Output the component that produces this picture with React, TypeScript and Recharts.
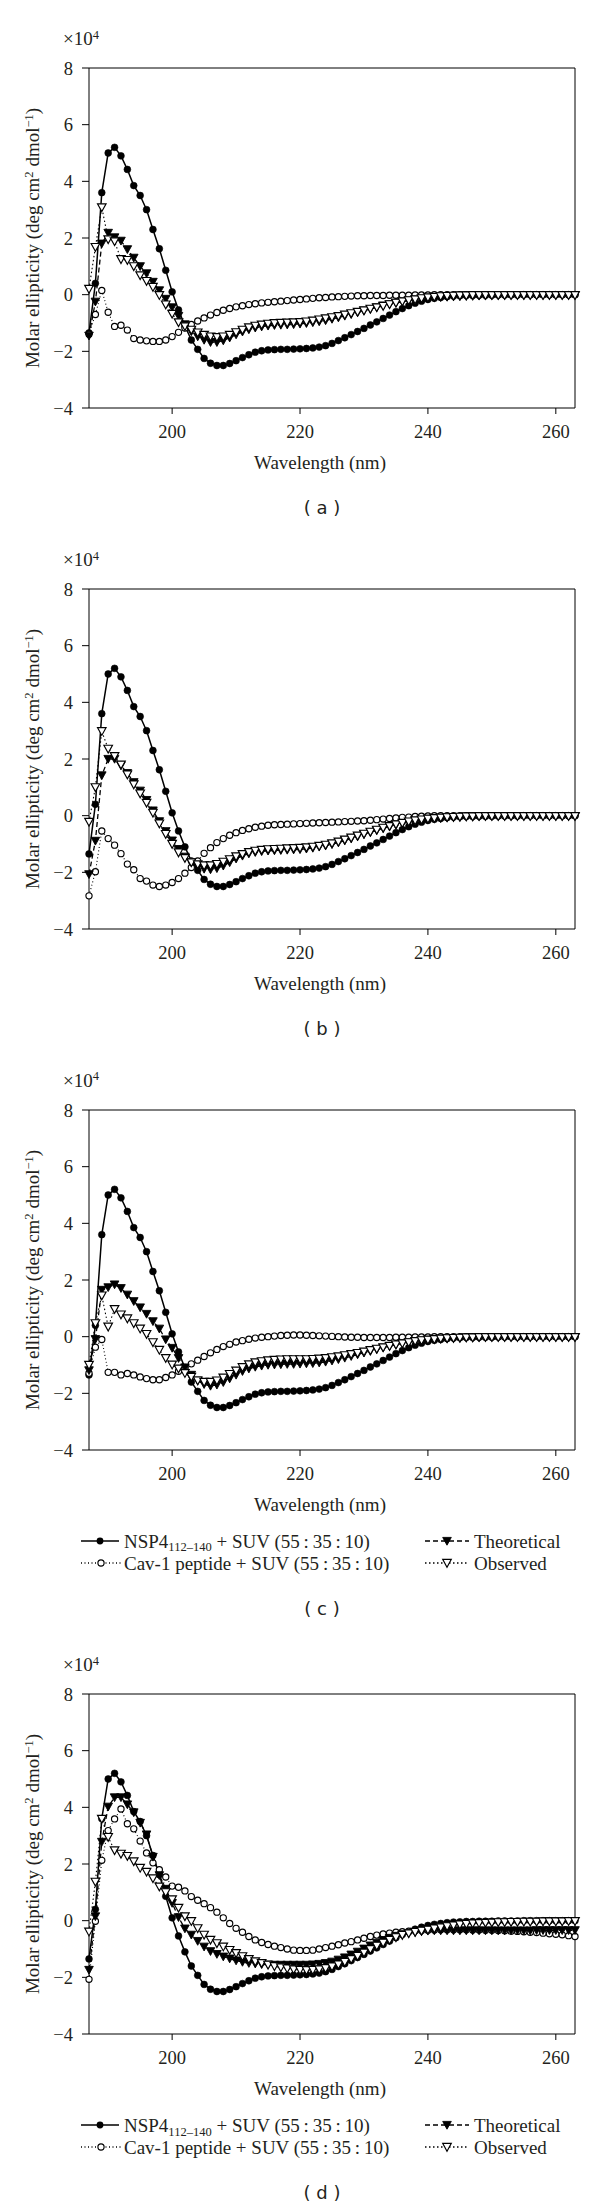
import React from 'react';
import { LineChart, Line, XAxis, YAxis, ReferenceLine } from 'recharts';

// wavelength grid, 1 nm steps
const WAVELENGTHS = [
  187, 188, 189, 190, 191, 192, 193, 194, 195, 196,
  197, 198, 199, 200, 201, 202, 203, 204, 205, 206,
  207, 208, 209, 210, 211, 212, 213, 214, 215, 216,
  217, 218, 219, 220, 221, 222, 223, 224, 225, 226,
  227, 228, 229, 230, 231, 232, 233, 234, 235, 236,
  237, 238, 239, 240, 241, 242, 243, 244, 245, 246,
  247, 248, 249, 250, 251, 252, 253, 254, 255, 256,
  257, 258, 259, 260, 261, 262, 263,
];

// NSP4(112-140) + SUV, same trace in every panel (x10^4)
const NSP4 = [
  -1.35, 0.4, 3.6, 5.0, 5.2, 4.9, 4.42, 3.85, 3.5, 3.0,
  2.3, 1.62, 0.86, 0.1, -0.54, -1.1, -1.6, -1.93, -2.25, -2.42,
  -2.5, -2.5, -2.43, -2.33, -2.22, -2.12, -2.03, -1.98, -1.95, -1.94,
  -1.93, -1.93, -1.92, -1.91, -1.9, -1.88, -1.85, -1.8, -1.72, -1.62,
  -1.52, -1.41, -1.3, -1.19, -1.07, -0.96, -0.84, -0.72, -0.6, -0.49,
  -0.39, -0.3, -0.23, -0.17, -0.13, -0.1, -0.07, -0.05, -0.04, -0.03,
  -0.03, -0.02, -0.02, -0.02, -0.01, -0.01, -0.01, -0.01, 0, 0,
  0, 0, 0, 0, 0, 0, 0,
];

// panel (a)
const CAV_A = [
  -1.4, -0.7, 0.15, -0.62, -1.12, -1.08, -1.25, -1.55, -1.6, -1.63,
  -1.65, -1.65, -1.6, -1.48, -1.33, -1.18, -1.05, -0.93, -0.82, -0.72,
  -0.63, -0.55, -0.49, -0.43, -0.39, -0.35, -0.32, -0.29, -0.27, -0.25,
  -0.23, -0.21, -0.19, -0.17, -0.15, -0.13, -0.11, -0.1, -0.08, -0.07,
  -0.06, -0.05, -0.04, -0.04, -0.03, -0.03, -0.03, -0.02, -0.02, -0.02,
  -0.02, -0.01, -0.01, -0.01, 0, 0, 0, 0, 0, 0,
  0, 0, 0, 0, 0, 0, 0, 0, 0, 0,
  0, 0, 0, 0, 0, 0, 0,
];
const THEO_A = [
  -1.45, -0.25, 1.8, 2.18, 2.02, 1.9, 1.6, 1.3, 1.0, 0.75,
  0.45, 0.15, -0.15, -0.45, -0.75, -1.05, -1.3, -1.48, -1.6, -1.68,
  -1.68, -1.62, -1.52, -1.41, -1.31, -1.23, -1.17, -1.13, -1.1, -1.08,
  -1.07, -1.06, -1.05, -1.03, -1.01, -0.98, -0.95, -0.91, -0.86, -0.81,
  -0.75, -0.69, -0.63, -0.57, -0.51, -0.45, -0.39, -0.34, -0.29, -0.25,
  -0.21, -0.18, -0.15, -0.13, -0.11, -0.09, -0.08, -0.07, -0.06, -0.05,
  -0.05, -0.04, -0.04, -0.03, -0.03, -0.03, -0.02, -0.02, -0.02, -0.02,
  -0.02, -0.02, -0.02, -0.02, -0.02, -0.02, -0.02,
];
const OBS_A = [
  0.2, 1.68, 3.08, 1.95, 1.88, 1.25, 1.22, 1.0, 0.68, 0.48,
  0.27, -0.02, -0.35, -0.68, -0.98, -1.12, -1.24, -1.34, -1.42, -1.48,
  -1.5, -1.48, -1.42, -1.33, -1.24, -1.16, -1.1, -1.06, -1.03, -1.01,
  -1.0, -0.99, -0.98, -0.97, -0.95, -0.92, -0.88, -0.84, -0.8, -0.76,
  -0.71, -0.66, -0.61, -0.56, -0.5, -0.45, -0.4, -0.34, -0.29, -0.24,
  -0.2, -0.17, -0.13, -0.1, -0.08, -0.06, -0.05, -0.04, -0.03, -0.03,
  -0.02, -0.02, -0.02, -0.02, -0.02, -0.02, -0.02, -0.02, -0.02, -0.02,
  -0.02, -0.02, -0.02, -0.02, -0.02, -0.02, -0.02,
];

// panel (b)
const CAV_B = [
  -2.83, -1.98, -0.54, -0.81, -1.04, -1.34, -1.71, -1.91, -2.22, -2.31,
  -2.45, -2.5, -2.45, -2.36, -2.22, -2.03, -1.83, -1.6, -1.33, -1.13,
  -0.95, -0.81, -0.69, -0.6, -0.52, -0.46, -0.41, -0.37, -0.34, -0.32,
  -0.31, -0.3, -0.29, -0.28, -0.27, -0.26, -0.25, -0.24, -0.23, -0.22,
  -0.21, -0.2, -0.19, -0.18, -0.16, -0.14, -0.12, -0.1, -0.08, -0.06,
  -0.05, -0.03, -0.02, -0.01, 0, 0, 0, 0, 0, 0,
  0, 0, 0, 0, 0, 0, 0, 0, 0, 0,
  0, 0, 0, 0, 0, 0, 0,
];
const THEO_B = [
  -2.07, -0.89, 1.42, 2.0, 2.0, 1.77, 1.5, 1.18, 0.88, 0.55,
  0.18, -0.2, -0.55, -0.88, -1.18, -1.45, -1.65, -1.8, -1.88, -1.9,
  -1.86, -1.77, -1.65, -1.52, -1.42, -1.34, -1.29, -1.26, -1.24, -1.23,
  -1.22, -1.21, -1.2, -1.19, -1.17, -1.14, -1.1, -1.06, -1.01, -0.95,
  -0.88, -0.81, -0.74, -0.66, -0.59, -0.52, -0.45, -0.39, -0.33, -0.28,
  -0.23, -0.19, -0.16, -0.13, -0.11, -0.09, -0.07, -0.06, -0.05, -0.04,
  -0.04, -0.03, -0.03, -0.02, -0.02, -0.02, -0.02, -0.02, -0.02, -0.02,
  -0.02, -0.02, -0.02, -0.02, -0.02, -0.02, -0.02,
];
const OBS_B = [
  -0.22, 1.0, 2.98, 2.36, 2.1, 1.8, 1.45, 1.1, 0.78, 0.45,
  0.1, -0.28, -0.65, -1.0, -1.3, -1.5, -1.65, -1.72, -1.76, -1.76,
  -1.71, -1.63, -1.54, -1.44, -1.36, -1.29, -1.24, -1.21, -1.19, -1.18,
  -1.17, -1.16, -1.15, -1.14, -1.12, -1.1, -1.07, -1.03, -0.98, -0.92,
  -0.85, -0.78, -0.71, -0.64, -0.57, -0.5, -0.43, -0.37, -0.31, -0.26,
  -0.21, -0.17, -0.14, -0.11, -0.09, -0.07, -0.06, -0.05, -0.04, -0.03,
  -0.03, -0.02, -0.02, -0.02, -0.02, -0.02, -0.02, -0.02, -0.02, -0.02,
  -0.02, -0.02, -0.02, -0.02, -0.02, -0.02, -0.02,
];

// panel (c)
const CAV_C = [
  -1.29, -0.37, -0.1, -1.26, -1.26, -1.35, -1.3, -1.35, -1.42, -1.48,
  -1.52, -1.52, -1.44, -1.35, -1.22, -1.09, -0.96, -0.83, -0.7, -0.57,
  -0.45, -0.35, -0.27, -0.19, -0.14, -0.09, -0.05, -0.02, 0, 0.02,
  0.04, 0.05, 0.06, 0.06, 0.05, 0.04, 0.03, 0.02, 0.01, 0,
  -0.01, -0.02, -0.02, -0.03, -0.03, -0.03, -0.03, -0.03, -0.02, -0.02,
  -0.02, -0.01, -0.01, -0.01, 0, 0, 0, 0, 0, 0,
  0, 0, 0, 0, 0, 0, 0, 0, 0, 0,
  0, 0, 0, 0, 0, 0, 0,
];
const THEO_C = [
  -1.19, -0.09, 1.65, 1.74, 1.84, 1.71, 1.48, 1.25, 1.03, 0.8,
  0.54, 0.28, -0.1, -0.4, -0.76, -1.09, -1.35, -1.55, -1.68, -1.74,
  -1.7, -1.61, -1.48, -1.35, -1.22, -1.13, -1.07, -1.03, -1.0, -0.99,
  -0.98, -0.97, -0.97, -0.96, -0.95, -0.94, -0.92, -0.89, -0.85, -0.8,
  -0.75, -0.69, -0.63, -0.57, -0.51, -0.45, -0.39, -0.34, -0.29, -0.24,
  -0.2, -0.17, -0.14, -0.12, -0.1, -0.08, -0.07, -0.06, -0.05, -0.04,
  -0.04, -0.03, -0.03, -0.02, -0.02, -0.02, -0.02, -0.02, -0.02, -0.02,
  -0.02, -0.02, -0.02, -0.02, -0.02, -0.02, -0.02,
];
const OBS_C = [
  -1.0, 0.47, 1.45, 0.35, 0.97, 0.78, 0.64, 0.47, 0.28, 0.09,
  -0.2, -0.47, -0.76, -0.99, -1.13, -1.29, -1.42, -1.55, -1.6, -1.6,
  -1.55, -1.45, -1.32, -1.2, -1.08, -0.98, -0.91, -0.87, -0.84, -0.82,
  -0.81, -0.8, -0.8, -0.8, -0.8, -0.79, -0.78, -0.76, -0.73, -0.7,
  -0.66, -0.62, -0.58, -0.53, -0.48, -0.43, -0.38, -0.33, -0.28, -0.24,
  -0.2, -0.16, -0.13, -0.11, -0.09, -0.07, -0.06, -0.05, -0.04, -0.03,
  -0.03, -0.02, -0.02, -0.02, -0.02, -0.02, -0.02, -0.02, -0.02, -0.02,
  -0.02, -0.02, -0.02, -0.02, -0.02, -0.02, -0.02,
];

// panel (d)
const CAV_D = [
  -2.07, -0.02, 2.13, 3.18, 3.59, 3.94, 3.42, 3.24, 2.81, 2.39,
  2.04, 1.8, 1.54, 1.22, 1.18, 1.05, 0.85, 0.72, 0.6, 0.46,
  0.3, 0.1, -0.1, -0.27, -0.41, -0.56, -0.68, -0.77, -0.84, -0.9,
  -0.95, -1.0, -1.04, -1.05, -1.05, -1.04, -1.0, -0.95, -0.9, -0.85,
  -0.79, -0.74, -0.68, -0.62, -0.56, -0.51, -0.47, -0.44, -0.41, -0.39,
  -0.37, -0.36, -0.35, -0.34, -0.33, -0.32, -0.32, -0.32, -0.32, -0.32,
  -0.33, -0.33, -0.34, -0.34, -0.35, -0.36, -0.37, -0.38, -0.39, -0.41,
  -0.42, -0.44, -0.46, -0.48, -0.5, -0.53, -0.56,
];
const THEO_D = [
  -1.74, 0.15, 2.78, 4.02, 4.35, 4.35, 4.1, 3.82, 3.45, 3.04,
  2.25, 1.6, 1.12, 0.62, 0.12, -0.28, -0.5, -0.72, -0.92, -1.08,
  -1.18, -1.27, -1.34, -1.41, -1.46, -1.5, -1.52, -1.54, -1.55, -1.56,
  -1.56, -1.56, -1.56, -1.56, -1.56, -1.55, -1.53, -1.5, -1.45, -1.38,
  -1.3, -1.2, -1.1, -0.99, -0.88, -0.78, -0.69, -0.61, -0.54, -0.48,
  -0.44, -0.41, -0.38, -0.36, -0.35, -0.35, -0.35, -0.35, -0.35, -0.35,
  -0.35, -0.35, -0.35, -0.35, -0.35, -0.35, -0.35, -0.35, -0.35, -0.35,
  -0.34, -0.34, -0.34, -0.34, -0.34, -0.34, -0.34,
];
const OBS_D = [
  -0.39, 1.37, 3.59, 2.95, 2.48, 2.36, 2.28, 2.09, 1.86, 1.72,
  1.49, 1.2, 1.0, 0.75, 0.45, 0.15, -0.02, -0.27, -0.5, -0.68,
  -0.8, -0.92, -1.04, -1.15, -1.26, -1.36, -1.44, -1.5, -1.56, -1.61,
  -1.65, -1.69, -1.72, -1.74, -1.75, -1.74, -1.72, -1.68, -1.62, -1.55,
  -1.46, -1.36, -1.25, -1.13, -1.01, -0.89, -0.78, -0.68, -0.59, -0.51,
  -0.45, -0.4, -0.36, -0.32, -0.28, -0.24, -0.2, -0.17, -0.14, -0.12,
  -0.1, -0.09, -0.08, -0.07, -0.06, -0.06, -0.05, -0.05, -0.04, -0.04,
  -0.04, -0.03, -0.03, -0.03, -0.03, -0.02, -0.02,
];

const X_TICKS = [200, 220, 240, 260];
const Y_TICKS = [-4, -2, 0, 2, 4, 6, 8];
const X_DOMAIN: [number, number] = [187, 263];
const Y_DOMAIN: [number, number] = [-4, 8];

const SERIF = "'Liberation Serif', 'Times New Roman', serif";
const SANS = "'DejaVu Sans', Verdana, sans-serif";
const INK = '#231f20';

const PLOT_LEFT = 89;
const PLOT_RIGHT = 575;
const PLOT_H = 340;
const TOP_PAD = 70;
const AXIS_H = 40;

// markers
const dotFilledCircle = (p: any) => (
  <circle key={`fc${p.index}`} cx={p.cx} cy={p.cy} r={3.4} fill="#000" stroke="#000" strokeWidth={0.6} />
);
const dotOpenCircle = (p: any) => (
  <circle key={`oc${p.index}`} cx={p.cx} cy={p.cy} r={3.1} fill="#fff" stroke="#000" strokeWidth={1.15} />
);
const triPath = (cx: number, cy: number) =>
  `M${cx - 4.3},${cy - 3.6} L${cx + 4.3},${cy - 3.6} L${cx},${cy + 4.2} Z`;
const dotFilledTri = (p: any) => (
  <path key={`ft${p.index}`} d={triPath(p.cx, p.cy)} fill="#000" stroke="#000" strokeWidth={0.9} />
);
const dotOpenTri = (p: any) => (
  <path key={`ot${p.index}`} d={triPath(p.cx, p.cy)} fill="#fff" stroke="#000" strokeWidth={1.15} />
);

const fmtY = (v: number) => (v < 0 ? `\u2212${-v}` : `${v}`);

function Txt({ x, y, anchor = 'middle', style, children }: any) {
  const tx = anchor === 'middle' ? '-50%' : anchor === 'end' ? '-100%' : '0';
  return (
    <div
      style={{
        position: 'absolute',
        left: x,
        top: y,
        transform: `translate(${tx}, -50%)`,
        whiteSpace: 'nowrap',
        fontFamily: SERIF,
        fontSize: 19,
        color: INK,
        lineHeight: 1,
        ...style,
      }}
    >
      {children}
    </div>
  );
}

const sup = { fontSize: '0.66em', position: 'relative' as const, top: '-0.5em' };
const sub = { fontSize: '0.66em', position: 'relative' as const, top: '0.28em' };

function Glyph({ kind, width }: { kind: string; width: number }) {
  const mid = width / 2;
  const dash =
    kind === 'nsp4' ? undefined : kind === 'cav' ? '1 2.5' : kind === 'theo' ? '5 3' : '1.5 2.5';
  return (
    <svg width={width} height={14} style={{ display: 'block' }}>
      <line x1={0} y1={7} x2={width} y2={7} stroke="#000" strokeWidth={1.3} strokeDasharray={dash} />
      {kind === 'nsp4' && <circle cx={mid} cy={7} r={3.4} fill="#000" />}
      {kind === 'cav' && <circle cx={mid} cy={7} r={3.1} fill="#fff" stroke="#000" strokeWidth={1.15} />}
      {kind === 'theo' && <path d={triPath(mid, 7)} fill="#000" stroke="#000" strokeWidth={0.9} />}
      {kind === 'obs' && <path d={triPath(mid, 7)} fill="#fff" stroke="#000" strokeWidth={1.15} />}
    </svg>
  );
}

function LegendBlock({ top }: { top: number }) {
  const r1 = top + 431;
  const r2 = top + 453;
  const box = (x: number, y: number, kind: string, w: number) => (
    <div style={{ position: 'absolute', left: x, top: y - 7 }}>
      <Glyph kind={kind} width={w} />
    </div>
  );
  return (
    <>
      {box(81, r1, 'nsp4', 38)}
      <Txt x={124} y={r1} anchor="start">
        NSP4<span style={sub}>112–140</span> + SUV (55{'\u2009'}:{'\u2009'}35{'\u2009'}:{'\u2009'}10)
      </Txt>
      {box(81, r2, 'cav', 40)}
      <Txt x={124} y={r2} anchor="start">
        Cav-1 peptide + SUV (55{'\u2009'}:{'\u2009'}35{'\u2009'}:{'\u2009'}10)
      </Txt>
      {box(425, r1, 'theo', 44)}
      <Txt x={474} y={r1} anchor="start">Theoretical</Txt>
      {box(425, r2, 'obs', 44)}
      <Txt x={474} y={r2} anchor="start">Observed</Txt>
    </>
  );
}

function Panel({ top, cav, theo, obs, tag, legend }: any) {
  const data = WAVELENGTHS.map((w, i) => ({
    w,
    nsp4: NSP4[i],
    cav: cav[i],
    theo: theo[i],
    obs: obs[i],
  }));
  const tickFont = { fill: INK, fontSize: 18.5, fontFamily: SERIF };
  return (
    <>
      <div style={{ position: 'absolute', left: 0, top: top - TOP_PAD }}>
        <LineChart
          width={600}
          height={TOP_PAD + PLOT_H + AXIS_H}
          data={data}
          margin={{ top: TOP_PAD, right: 600 - PLOT_RIGHT, bottom: 0, left: 0 }}
        >
          <XAxis
            dataKey="w"
            type="number"
            domain={X_DOMAIN}
            ticks={X_TICKS}
            height={AXIS_H}
            tickSize={6}
            tickMargin={11}
            axisLine={{ stroke: '#000', strokeWidth: 1 }}
            tickLine={{ stroke: '#000', strokeWidth: 1 }}
            tick={tickFont}
          />
          <YAxis
            type="number"
            domain={Y_DOMAIN}
            ticks={Y_TICKS}
            width={PLOT_LEFT}
            tickSize={7}
            tickMargin={9}
            tickFormatter={fmtY}
            axisLine={{ stroke: '#000', strokeWidth: 1 }}
            tickLine={{ stroke: '#000', strokeWidth: 1 }}
            tick={tickFont}
          />
          <ReferenceLine y={8} stroke="#000" strokeWidth={1} />
          <ReferenceLine x={263} stroke="#000" strokeWidth={1} />
          <Line
            dataKey="nsp4"
            stroke="#000"
            strokeWidth={1.5}
            dot={dotFilledCircle}
            activeDot={false}
            isAnimationActive={false}
          />
          <Line
            dataKey="cav"
            stroke="#000"
            strokeWidth={1.1}
            strokeDasharray="1 2.5"
            dot={dotOpenCircle}
            activeDot={false}
            isAnimationActive={false}
          />
          <Line
            dataKey="theo"
            stroke="#000"
            strokeWidth={1.3}
            strokeDasharray="5 3"
            dot={dotFilledTri}
            activeDot={false}
            isAnimationActive={false}
          />
          <Line
            dataKey="obs"
            stroke="#000"
            strokeWidth={1.1}
            strokeDasharray="1.5 2.5"
            dot={dotOpenTri}
            activeDot={false}
            isAnimationActive={false}
          />
        </LineChart>
      </div>
      <Txt x={63} y={top - 30} anchor="start">
        ×10<span style={sup}>4</span>
      </Txt>
      <div
        style={{
          position: 'absolute',
          left: 32,
          top: top + PLOT_H / 2,
          transform: 'translate(-50%, -50%) rotate(-90deg)',
          whiteSpace: 'nowrap',
          fontFamily: SERIF,
          fontSize: 19,
          color: INK,
          lineHeight: 1,
        }}
      >
        Molar ellipticity (deg cm<span style={sup}>2</span> dmol<span style={sup}>−1</span>)
      </div>
      <Txt x={320} y={top + 394}>Wavelength (nm)</Txt>
      {legend && <LegendBlock top={top} />}
      <Txt x={322} y={top + (legend ? 499 : 440)} style={{ fontFamily: SANS, fontSize: 18 }}>
        ( {tag} )
      </Txt>
    </>
  );
}

export default function App() {
  return (
    <div
      style={{
        position: 'absolute',
        left: 0,
        top: 0,
        width: 600,
        height: 2212,
        background: '#fff',
        overflow: 'hidden',
      }}
    >
      <Panel top={68.3} cav={CAV_A} theo={THEO_A} obs={OBS_A} tag="a" />
      <Panel top={589.3} cav={CAV_B} theo={THEO_B} obs={OBS_B} tag="b" />
      <Panel top={1109.6} cav={CAV_C} theo={THEO_C} obs={OBS_C} tag="c" legend />
      <Panel top={1694.4} cav={CAV_D} theo={THEO_D} obs={OBS_D} tag="d" legend />
    </div>
  );
}
